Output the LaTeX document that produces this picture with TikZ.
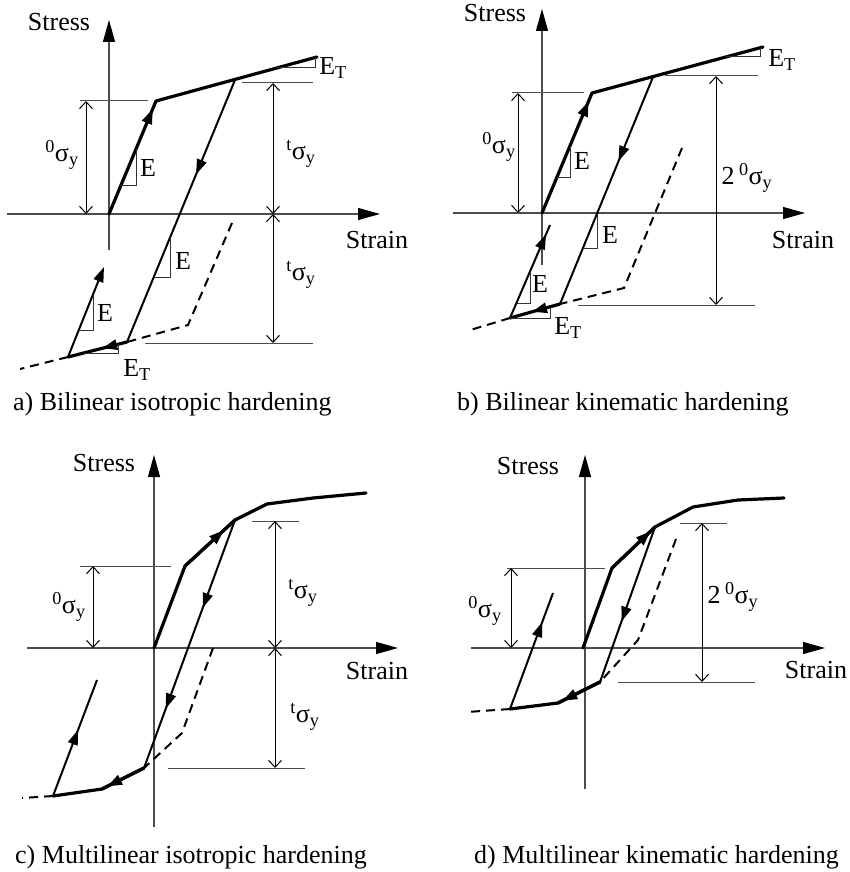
\documentclass[tikz,border=0pt]{standalone}
\usepackage{fontspec}
\setmainfont{Liberation Serif}
\usetikzlibrary{arrows.meta, decorations.markings}

\begin{document}
\begin{tikzpicture}[x=1pt, y=-1pt,
    axis/.style = {draw=black!70, line width=1.2pt, -{Triangle[length=22pt,width=12pt,black]}},
    guide/.style = {draw=black!70, line width=1pt},
    dim/.style = {draw=black, line width=1pt, {Straight Barb[length=7pt,width=13pt]}-{Straight Barb[length=7pt,width=13pt]}},
    hard/.style = {line width=3.2pt, line join=round, line cap=round},
    unload/.style = {line width=2pt},
    trace/.style = {line width=2pt, dash pattern=on 9pt off 6pt},
    slope/.style = {draw=black!80, line width=1pt},
    tipat/.style = {postaction={decorate, decoration={markings, mark=at position #1 with {\arrow{Triangle[length=15pt,width=10pt]}}}}},
    lbl/.style = {font=\fontsize{26}{30}\selectfont, inner sep=0pt},
    caption/.style = {font=\fontsize{26}{30}\selectfont, inner sep=0pt, anchor=base west}
]
\useasboundingbox (0,0) rectangle (850,872);

% a) bilinear isotropic
\coordinate (a_o) at (109,214);
\coordinate (a_y) at (156,101);
\coordinate (a_top) at (317,57);
\coordinate (a_un) at (235,80);
\coordinate (a_rev) at (127,342);
\coordinate (a_low) at (68,357);
\coordinate (a_rel) at (104,267);

\draw[axis] (109,250) -- (109,20);
\draw[axis] (7,214) -- (380,214);
\draw[guide] (80,101) -- (148,101);
\draw[guide] (242,83) -- (313,83);
\draw[guide] (145,343) -- (313,343);
\draw[dim] (86,101) -- (86,214);
\draw[dim] (273,83) -- (273,214);
\draw[dim] (273,214) -- (273,343);

\draw[trace] (232,223) -- (188,325) -- (a_rev);
\draw[trace] (a_low) -- (20,369);
\draw[hard, tipat=0.93] (a_o) -- (a_y);
\draw[hard] (a_y) -- (a_top);
\draw[unload, tipat=0.36] (a_un) -- (a_rev);
\draw[hard, tipat=0.42] (a_rev) -- (a_low);
\draw[unload, -{Triangle[length=15pt,width=10pt]}] (a_low) -- (a_rel);

\draw[slope] (121,185) -- (136,185) -- (136,149);
\draw[slope] (277,68) -- (315,68) -- (315,57.5);
\draw[slope] (154,277) -- (170,277) -- (170,238);
\draw[slope] (79,330) -- (93,330) -- (93,294.5);
\draw[slope] (84,353) -- (118,353) -- (118,344.3);

\node[lbl] (a_stress) at (59,22) {Stress};
\node[lbl] (a_strain) at (377,240) {Strain};
\node[lbl] (a_sy0) at (62,155) {\textsuperscript{0}σ\textsubscript{y}};
\node[lbl] (a_e1) at (148,168) {E};
\node[lbl] (a_et1) at (333,68) {E\textsubscript{T}};
\node[lbl] (a_syt1) at (301,154) {\textsuperscript{t}σ\textsubscript{y}};
\node[lbl] (a_syt2) at (301,275) {\textsuperscript{t}σ\textsubscript{y}};
\node[lbl] (a_e2) at (183,261) {E};
\node[lbl] (a_e3) at (105,313) {E};
\node[lbl] (a_et2) at (137,370) {E\textsubscript{T}};
\node[caption] (a_cap) at (13,410) {a) Bilinear isotropic hardening};

% b) bilinear kinematic
\coordinate (b_o) at (542,213);
\coordinate (b_y) at (592,93);
\coordinate (b_top) at (763,47);
\coordinate (b_un) at (653,77);
\coordinate (b_rev) at (560,304);
\coordinate (b_low) at (510,318);
\coordinate (b_rel) at (550,225);

\draw[axis] (542,265) -- (542,9);
\draw[axis] (453,213) -- (805,213);
\draw[guide] (512,93) -- (584,93);
\draw[guide] (665,76) -- (758,76);
\draw[guide] (578,305) -- (755,305);
\draw[dim] (518,93) -- (518,213);
\draw[dim] (716,76) -- (716,305);

\draw[trace] (682,148) -- (624,288) -- (b_rev);
\draw[trace] (b_low) -- (467,331);
\draw[hard, tipat=0.93] (b_o) -- (b_y);
\draw[hard] (b_y) -- (b_top);
\draw[unload, tipat=0.37] (b_un) -- (b_rev);
\draw[hard, tipat=0.56] (b_rev) -- (b_low);
\draw[unload, tipat=0.9] (b_low) -- (b_rel);

\draw[slope] (557,177) -- (570,177) -- (570,146);
\draw[slope] (726,57) -- (760,57) -- (760,48);
\draw[slope] (583,248) -- (597,248) -- (597,214);
\draw[slope] (516.5,303) -- (530,303) -- (530,271.5);
\draw[slope] (b_low) -- (550,318) -- (550,307);

\node[lbl] (b_stress) at (495,13) {Stress};
\node[lbl] (b_strain) at (803,240) {Strain};
\node[lbl] (b_sy0) at (499,147) {\textsuperscript{0}σ\textsubscript{y}};
\node[lbl] (b_e1) at (582,161) {E};
\node[lbl] (b_et1) at (782,60) {E\textsubscript{T}};
\node[lbl] (b_sy2) at (747,178) {2\,\textsuperscript{0}σ\textsubscript{y}};
\node[lbl] (b_e2) at (610,235) {E};
\node[lbl] (b_e3) at (540,284) {E};
\node[lbl] (b_et2) at (568,328) {E\textsubscript{T}};
\node[caption] (b_cap) at (457,410) {b) Bilinear kinematic hardening};

% c) multilinear isotropic
\coordinate (c_o) at (154,648);
\coordinate (c_k1) at (185,566);
\coordinate (c_un) at (235,520);
\coordinate (c_k3) at (267,504);
\coordinate (c_k4) at (313,498);
\coordinate (c_end) at (366,493);
\coordinate (c_rev) at (144,768);
\coordinate (c_k5) at (102,789);
\coordinate (c_low) at (53,796);
\coordinate (c_rel) at (97,680);

\draw[axis] (154,827) -- (154,455);
\draw[axis] (27,648) -- (398,648);
\draw[guide] (80,566) -- (171,566);
\draw[guide] (252,521) -- (299,521);
\draw[guide] (168,768) -- (305,768);
\draw[dim] (93,566) -- (93,648);
\draw[dim] (275,521) -- (275,648);
\draw[dim] (275,648) -- (275,768);

\draw[trace] (213,648) -- (182,733) -- (c_rev);
\draw[trace] (c_low) -- (22,798);
\draw[hard] (c_o) -- (c_k1) -- (c_un) -- (c_k3) -- (c_k4) -- (c_end);
\draw[hard, tipat=0.78] (c_k1) -- (c_un);
\draw[unload, tipat=0.355, tipat=0.76] (c_un) -- (c_rev);
\draw[hard] (c_rev) -- (c_k5) -- (c_low);
\draw[hard, tipat=0.88] (c_rev) -- (c_k5);
\draw[unload, tipat=0.57] (c_low) -- (c_rel);

\node[lbl] (c_stress) at (104,463) {Stress};
\node[lbl] (c_strain) at (377,671) {Strain};
\node[lbl] (c_sy0) at (69,607) {\textsuperscript{0}σ\textsubscript{y}};
\node[lbl] (c_syt1) at (303,593) {\textsuperscript{t}σ\textsubscript{y}};
\node[lbl] (c_syt2) at (305,717) {\textsuperscript{t}σ\textsubscript{y}};
\node[caption] (c_cap) at (15,863) {c) Multilinear isotropic hardening};

% d) multilinear kinematic
\coordinate (d_o) at (583,648);
\coordinate (d_k1) at (612,568);
\coordinate (d_un) at (655,527);
\coordinate (d_k3) at (693,507);
\coordinate (d_k4) at (738,500);
\coordinate (d_end) at (784,498);
\coordinate (d_rev) at (600,682);
\coordinate (d_k5) at (558,703);
\coordinate (d_low) at (510,709);
\coordinate (d_rel) at (553,593);

\draw[axis] (585,789) -- (585,455);
\draw[axis] (471,648) -- (825,648);
\draw[guide] (507,568) -- (605,568);
\draw[guide] (680,523) -- (727,523);
\draw[guide] (618,682) -- (755,682);
\draw[dim] (511,568) -- (511,648);
\draw[dim] (702,523) -- (702,682);

\draw[trace] (676,539) -- (638,640) -- (d_rev);
\draw[trace] (d_low) -- (467,712);
\draw[hard] (d_o) -- (d_k1) -- (d_un) -- (d_k3) -- (d_k4) -- (d_end);
\draw[hard, tipat=0.9] (d_k1) -- (d_un);
\draw[unload, tipat=0.61] (d_un) -- (d_rev);
\draw[hard] (d_rev) -- (d_k5) -- (d_low);
\draw[hard, tipat=0.9] (d_rev) -- (d_k5);
\draw[unload, tipat=0.75] (d_low) -- (d_rel);

\node[lbl] (d_stress) at (528,466) {Stress};
\node[lbl] (d_strain) at (816,670) {Strain};
\node[lbl] (d_sy0) at (485,611) {\textsuperscript{0}σ\textsubscript{y}};
\node[lbl] (d_sy2) at (733,597) {2\,\textsuperscript{0}σ\textsubscript{y}};
\node[caption] (d_cap) at (474,863) {d) Multilinear kinematic hardening};

\end{tikzpicture}
\end{document}
